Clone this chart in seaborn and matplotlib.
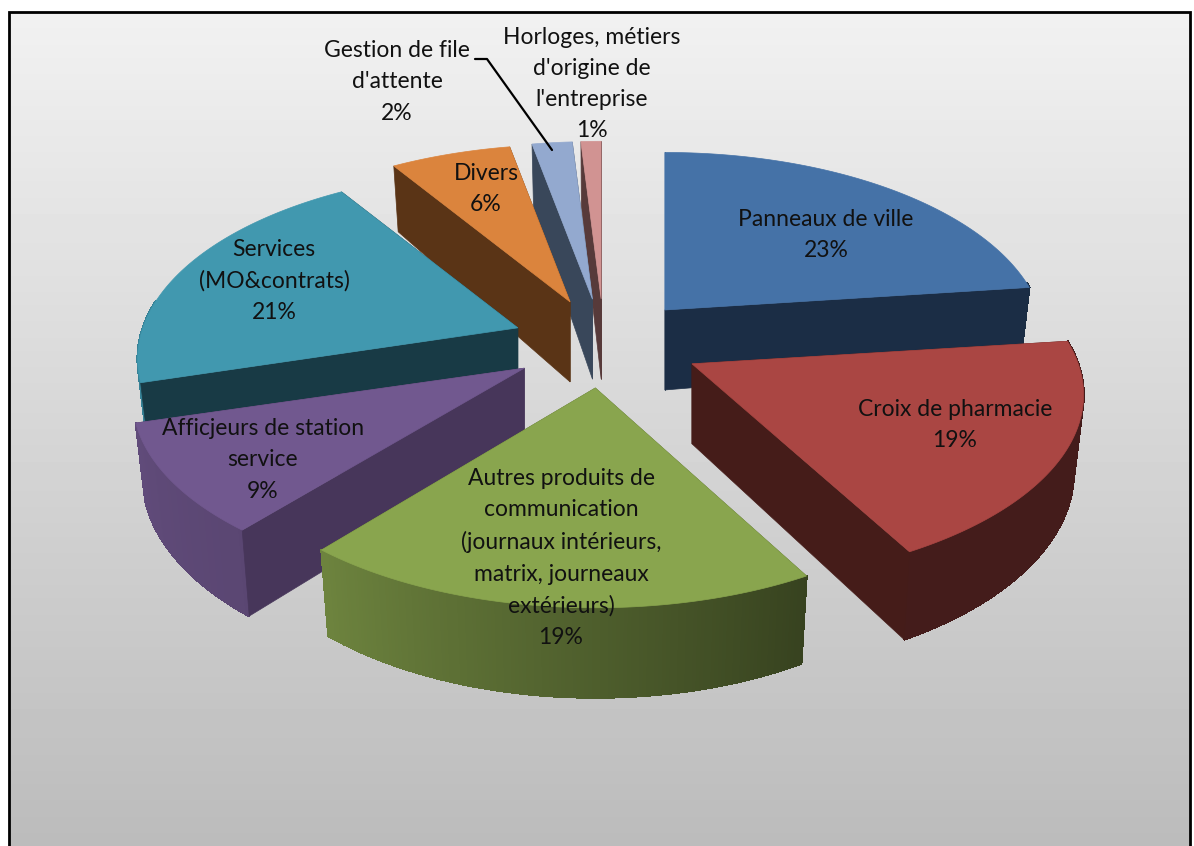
"""
Exploded 3D pie: product mix (matplotlib has no 3D pie, so faces are projected by hand).
"""

import numpy as np
import matplotlib.pyplot as plt
import seaborn as sns

# 1. Data
categories = [
    "Panneaux de ville",
    "Croix de pharmacie",
    "Autres produits de\ncommunication\n(journaux intérieurs,\nmatrix, journeaux\nextérieurs)",
    "Afficjeurs de station\nservice",
    "Services\n(MO&contrats)",
    "Divers",
    "Gestion de file\nd'attente",
    "Horloges, métiers\nd'origine de\nl'entreprise",
]
shares = [23, 19, 19, 9.4, 20.6, 6, 2, 1]
top_colors = ["#4572A7", "#AA4643", "#89A54E", "#71588F", "#4198AF", "#DB843D", "#93A9CF", "#D19392"]
wall_colors = ["#1B2D45", "#451C19", "#4A5A28", "#47365A", "#183A45", "#5A3416", "#39475A", "#573A3A"]

# 2. Layout (pixels of the 1194x846 image)
CX, CY = 604, 343.5      # pie centre before explosion
EX, EY = 92, 44.7        # explosion distance
RX, RY = 375, 183.5      # radius of the top face
PERSP = 0.165            # front of the pie is drawn larger
DEPTH = 75               # wall height at the rim
TIP_DEPTH = 80           # wall height at the slice tip
BOTTOM_SCALE = 0.975     # bottom face shrinks a bit
DRAW_ORDER = [7, 6, 5, 0, 4, 1, 3, 2]
LABEL_XY = [(826, 235), (955, 425), (561, 558), (263, 460), (274, 281), (486, 189), (397, 82), (592, 84)]
NUDGE_X = [0, 6, 0, -3, 0, 0, 0, 0]
SCALE_X = [1, 1.03, 1, 1.03, 1, 1, 1, 1]

sns.set_theme(style="white")
plt.rcParams["font.family"] = ["Lato", "DejaVu Sans"]
palette = sns.color_palette(top_colors)

fig = plt.figure(figsize=(11.94, 8.46), dpi=100, facecolor="white")
ax = fig.add_axes([0, 0, 1, 1])
ax.set_xlim(0, 1194)
ax.set_ylim(846, 0)
ax.axis("off")

# 3. Background gradient and frame
gradient = np.linspace(0.945, 0.735, 256).reshape(-1, 1)
ax.imshow(gradient, cmap="gray", vmin=0, vmax=1, extent=(9, 1190, 846, 12), aspect="auto", zorder=0)
ax.plot([9, 9, 1190, 1190], [846, 12, 12, 846], color="black", lw=2, zorder=1, solid_joinstyle="miter")
ax.set_xlim(0, 1194)
ax.set_ylim(846, 0)


def project(a):
    # offset of a rim point from the slice tip, a in degrees clockwise from 12 o'clock
    rad = np.radians(a)
    front = -np.cos(rad)
    p = 1 / (1 - PERSP * front)
    return RX * np.sin(rad) * p, RY * front * p, DEPTH * p


def rim_shade(a):
    # rim walls get lighter going round from the right to the left
    return np.interp(a, [83, 151, 220, 252, 360], [0.40, 0.40, 0.80, 0.85, 0.85])


def draw_slice(i, start, end):
    mid = (start + end) / 2
    tx = CX + EX * np.sin(np.radians(mid)) + NUDGE_X[i]
    ty = CY - EY * np.cos(np.radians(mid))
    color = np.array(palette[i])
    wall = wall_colors[i]

    angles = np.linspace(start, end, max(int(end - start) * 2, 4))
    dx, dy, h = project(angles)
    dx = dx * SCALE_X[i]
    rx, ry = tx + dx, ty + dy
    bx, by = tx + dx * BOTTOM_SCALE, ty + dy + h

    # radial walls, split into hidden and visible
    mx, my = rx[len(rx) // 2], ry[len(ry) // 2]
    hidden, visible = [], []
    for j in (0, -1):
        run = rx[j] - tx
        line_y = ty + (mx - tx) * (ry[j] - ty) / run if abs(run) > 1e-6 else -1e6
        (visible if my < line_y else hidden).append(j)

    def radial(j):
        ax.fill([tx, rx[j], bx[j], tx], [ty, ry[j], by[j], ty + TIP_DEPTH], color=wall, lw=0.5, zorder=2)

    for j in hidden:
        radial(j)

    # outer wall, only the part that faces the viewer
    for k in range(len(angles) - 1):
        a = (angles[k] + angles[k + 1]) / 2
        if -np.cos(np.radians(a)) < -0.15:
            continue
        ax.fill([rx[k], rx[k + 1], bx[k + 1], bx[k]], [ry[k], ry[k + 1], by[k + 1], by[k]],
                color=tuple(color * rim_shade(a)), lw=1, antialiased=False, zorder=2)

    for j in visible:
        radial(j)

    # top face
    ax.fill(np.r_[tx, rx], np.r_[ty, ry], color=top_colors[i], lw=0.5, zorder=2)


# 4. Slices
edges = np.cumsum([0] + shares) / sum(shares) * 360
for i in DRAW_ORDER:
    draw_slice(i, edges[i], edges[i + 1])

# 5. Labels
for name, share, (x, y) in zip(categories, shares, LABEL_XY):
    ax.text(x, y, f"{name}\n{share:.0f}%", ha="center", va="center", fontsize=16.5,
            color="#111111", linespacing=1.6, zorder=4)

ax.plot([475, 487, 552], [59, 59, 150], color="black", lw=1.6, zorder=3)

plt.savefig("out.png", dpi=100)
plt.close()
